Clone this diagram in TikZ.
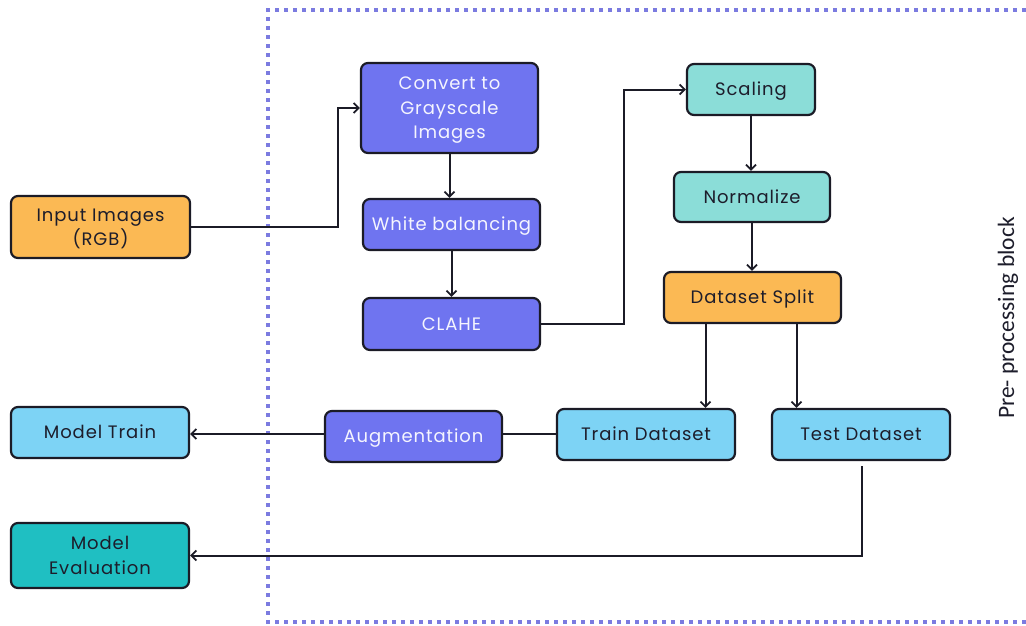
\documentclass[tikz,border=0pt]{standalone}
\usepackage{fontspec}
\setmainfont{Poppins}[LetterSpace=5]
\newfontfamily\labelfont{Carlito}
\usetikzlibrary{arrows.meta}
\definecolor{orangefill}{HTML}{FBB954}
\definecolor{violetfill}{HTML}{6F74F0}
\definecolor{tealfill}{HTML}{8BDDD8}
\definecolor{skyfill}{HTML}{7DD3F5}
\definecolor{deepteal}{HTML}{1FBFC2}
\definecolor{edgecol}{HTML}{1B1B26}
\definecolor{dotcol}{HTML}{7B7BE0}
\definecolor{inkcol}{HTML}{1D1D2B}
\tikzset{
  box/.style={draw=edgecol, line width=2.2pt, rounded corners=7pt, align=center,
    font=\fontsize{18}{24.5}\selectfont, text=inkcol, inner sep=0pt,
    text height=12.6pt, text depth=0pt},
  twolines/.style={text height=37.1pt},
  threelines/.style={text height=61.6pt},
  violetbox/.style={box, fill=violetfill, text=white!93!violetfill},
  orangebox/.style={box, fill=orangefill},
  tealbox/.style={box, fill=tealfill},
  skybox/.style={box, fill=skyfill},
  evalbox/.style={box, fill=deepteal},
  link/.style={draw=edgecol, line width=2pt},
  arrowlink/.style={link, -{Straight Barb[length=5pt,width=10pt,line width=1.8pt]}},
  blockedge/.style={draw=dotcol, line width=4pt, dash pattern=on 4pt off 5pt}
}
\begin{document}
\begin{tikzpicture}[x=1pt,y=-1pt]
\useasboundingbox (0,0) rectangle (1026,625);

% pre-processing frame (open on the right)
\draw[blockedge] (1026,10) -- (268,10) -- (268,622) -- (1026,622);
\node[rotate=90, font=\labelfont\fontsize{23.5}{26}\selectfont, text=inkcol] (blocklabel) at (1008,318) {Pre- processing block};

% boxes
\node[orangebox, twolines, minimum width=179pt, minimum height=62pt] (inp) at (100.5,227) {Input Images\\(RGB)};
\node[violetbox, threelines, minimum width=177pt, minimum height=90pt] (gray) at (449.5,108) {Convert to\\Grayscale\\Images};
\node[violetbox, minimum width=177pt, minimum height=51pt] (white) at (451.5,224.5) {White balancing};
\node[violetbox, minimum width=177pt, minimum height=52pt] (clahe) at (451.5,324) {CLAHE};
\node[tealbox, minimum width=128pt, minimum height=51pt] (scal) at (751,89.5) {Scaling};
\node[tealbox, minimum width=156pt, minimum height=50pt] (norm) at (752,197) {Normalize};
\node[orangebox, minimum width=177pt, minimum height=51pt] (split) at (752.5,297.5) {Dataset Split};
\node[skybox, minimum width=178pt, minimum height=51pt] (train) at (646,434.5) {Train Dataset};
\node[skybox, minimum width=178pt, minimum height=51pt] (test) at (861,434.5) {Test Dataset};
\node[violetbox, minimum width=177pt, minimum height=51pt] (aug) at (413.5,436.5) {Augmentation};
\node[skybox, minimum width=178pt, minimum height=51pt] (mtrain) at (100,432.5) {Model Train};
\node[evalbox, twolines, minimum width=178pt, minimum height=65pt] (meval) at (100,555.5) {Model\\Evaluation};

% connectors
\coordinate (bendA) at (338,0);
\coordinate (bendB) at (624,0);
\coordinate (testfoot) at (862,466);
\draw[arrowlink] (inp.east) -- (inp.east -| bendA) |- (gray.west);
\draw[arrowlink] (gray.south) -- (gray.south |- white.north);
\draw[arrowlink] (white.south) -- (white.south |- clahe.north);
\draw[arrowlink] (clahe.east) -- (clahe.east -| bendB) |- (scal.west);
\draw[arrowlink] (scal.south) -- (scal.south |- norm.north);
\draw[arrowlink] (norm.south) -- (norm.south |- split.north);
\draw[arrowlink] ([xshift=-47pt]split.south) -- ([xshift=-47pt]split.south |- train.north);
\draw[arrowlink] ([xshift=44pt]split.south) -- ([xshift=44pt]split.south |- test.north);
\draw[link] (train.west |- 0,434) -- (aug.east |- 0,434);
\draw[arrowlink] (aug.west |- 0,434) -- (mtrain.east |- 0,434);
\draw[arrowlink] (testfoot) |- (meval.east);
\end{tikzpicture}
\end{document}
